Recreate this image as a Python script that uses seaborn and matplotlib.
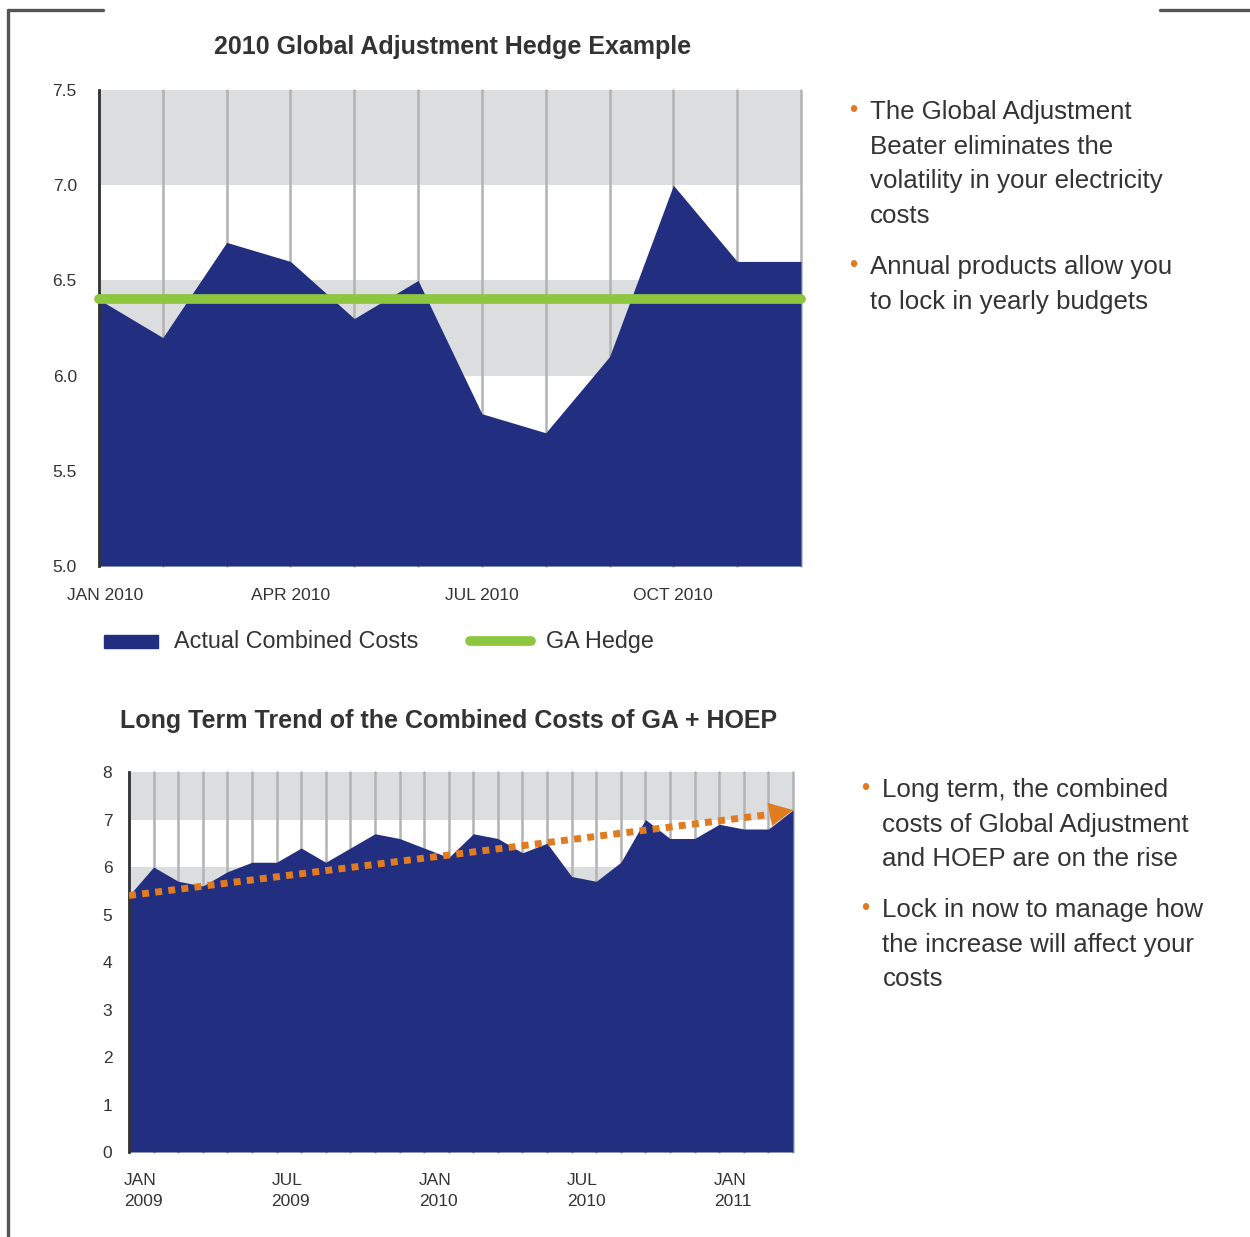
import numpy as np
import pandas as pd

import matplotlib
matplotlib.use("Agg")
import matplotlib.pyplot as plt
import matplotlib.transforms as mtrans
import seaborn as sns

#####################################
### DATA
#####################################
months_2010 = ["JAN", "FEB", "MAR", "APR", "MAY", "JUN",
               "JUL", "AUG", "SEP", "OCT", "NOV", "DEC"]
combined_2010 = [6.4, 6.2, 6.7, 6.6, 6.3, 6.5, 5.8, 5.7, 6.1, 7.0, 6.6, 6.6]
ga_hedge = 6.4
top_ticks = ["JAN 2010", "APR 2010", "JUL 2010", "OCT 2010"]

combined_long = [5.4, 6.0, 5.7, 5.6, 5.9, 6.1, 6.1, 6.4, 6.1, 6.4, 6.7, 6.6,
                 6.4, 6.2, 6.7, 6.6, 6.3, 6.5, 5.8, 5.7, 6.1, 7.0, 6.6, 6.6,
                 6.9, 6.8, 6.8, 7.2]
trend_ends = [5.4, 7.2]
bottom_ticks = ["JAN\n2009", "JUL\n2009", "JAN\n2010", "JUL\n2010", "JAN\n2011"]

bullets_top = ["The Global Adjustment\nBeater eliminates the\nvolatility in your electricity\ncosts",
               "Annual products allow you\nto lock in yearly budgets"]
bullets_bottom = ["Long term, the combined\ncosts of Global Adjustment\nand HOEP are on the rise",
                  "Lock in now to manage how\nthe increase will affect your\ncosts"]

top_df = pd.DataFrame({"x": np.arange(len(combined_2010)), "cost": combined_2010,
                       "hedge": [ga_hedge] * len(combined_2010)})
long_df = pd.DataFrame({"x": np.arange(len(combined_long)), "cost": combined_long})

#####################################
### STYLE
#####################################
sns.set_style("white")
plt.rcParams["font.family"] = ["Liberation Sans", "DejaVu Sans"]

NAVY = "#222E80"
GREEN = "#8DC63F"
ORANGE = "#E07B20"
BAND = "#DCDDDF"
GRID = "#B3B3B3"
TXT = "#333333"

fig = plt.figure(figsize=(12.5, 12.37), dpi=100)

# page frame
fig.add_artist(plt.Line2D([0.0065, 0.0065], [0.0, 0.992], color="#555555", lw=2.4))
fig.add_artist(plt.Line2D([0.0065, 0.082], [0.992, 0.992], color="#555555", lw=2.4))
fig.add_artist(plt.Line2D([0.928, 1.0], [0.992, 0.992], color="#555555", lw=2.4))

#####################################
### TOP CHART
#####################################
ax1 = fig.add_axes([0.0792, 0.5424, 0.5616, 0.3848])
n1 = len(top_df)
for lo in [5.0, 6.0, 7.0]:
    ax1.axhspan(lo, lo + 0.5, color=BAND, lw=0, zorder=0)
for xv in top_df["x"]:
    ax1.axvline(xv, color=GRID, lw=1.8, zorder=1, clip_on=False)
ax1.fill_between(top_df["x"], 5.0, top_df["cost"], color=NAVY, lw=0, zorder=2)
sns.lineplot(data=top_df, x="x", y="hedge", ax=ax1, color=GREEN, lw=7,
             solid_capstyle="round", zorder=3, clip_on=False)

ax1.set_xlim(0, n1 - 1)
ax1.set_ylim(5.0, 7.5)
ax1.set_yticks([5.0, 5.5, 6.0, 6.5, 7.0, 7.5])
ax1.set_yticklabels(["5.0", "5.5", "6.0", "6.5", "7.0", "7.5"])
ax1.set_xticks([0, 3, 6, 9])
ax1.set_xticklabels(top_ticks)
for s in ["top", "right", "bottom"]:
    ax1.spines[s].set_visible(False)
ax1.spines["left"].set_color("#333333")
ax1.spines["left"].set_linewidth(2)
ax1.tick_params(axis="y", length=0, pad=16, labelsize=12.5, labelcolor=TXT)
ax1.tick_params(axis="x", length=10, width=1.8, color=GRID, pad=6,
                labelsize=12.5, labelcolor=TXT)
ax1.get_xticklines()[0].set_color("#333333")
off1 = mtrans.ScaledTranslation(6 / 100, 0, fig.dpi_scale_trans)
lab0 = ax1.get_xticklabels()[0]
lab0.set_transform(lab0.get_transform() + off1)
ax1.set_xlabel("")
ax1.set_ylabel("")
ax1.set_title("2010 Global Adjustment Hedge Example", fontsize=18,
              fontweight="bold", color=TXT, pad=26, x=0.503)

# legend
fig.add_artist(plt.Rectangle((0.083, 0.4758), 0.043, 0.0105, color=NAVY,
                             transform=fig.transFigure))
fig.text(0.139, 0.4815, "Actual Combined Costs", fontsize=16.8, color=TXT, va="center")
fig.add_artist(plt.Line2D([0.376, 0.425], [0.4815, 0.4815], color=GREEN, lw=7,
                          solid_capstyle="round"))
fig.text(0.4365, 0.4815, "GA Hedge", fontsize=16.8, color=TXT, va="center")

#####################################
### BOTTOM CHART
#####################################
ax2 = fig.add_axes([0.1032, 0.0687, 0.5312, 0.3072])
n2 = len(long_df)
for lo in [1, 3, 5, 7]:
    ax2.axhspan(lo, lo + 1, color=BAND, lw=0, zorder=0)
for xv in long_df["x"]:
    ax2.axvline(xv, color=GRID, lw=1.8, zorder=1, clip_on=False)
ax2.fill_between(long_df["x"], 0, long_df["cost"], color=NAVY, lw=0, zorder=2)

trend_df = pd.DataFrame({"x": [0, n2 - 1.6], "y": [trend_ends[0], trend_ends[1] - 0.07]})
sns.lineplot(data=trend_df, x="x", y="y", ax=ax2, color=ORANGE, lw=5,
             linestyle=(0, (1.0, 0.9)), zorder=3)
ax2.annotate("", xy=(n2 - 1, trend_ends[1]), xytext=(n2 - 1.9, trend_ends[1] - 0.09),
             arrowprops=dict(arrowstyle="-|>,head_length=1.7,head_width=0.85",
                             color=ORANGE, lw=0, shrinkA=0, shrinkB=0),
             zorder=4, annotation_clip=False)

ax2.set_xlim(0, n2 - 1)
ax2.set_ylim(0, 8)
ax2.set_yticks(range(0, 9))
ax2.set_xticks([0, 6, 12, 18, 24])
ax2.set_xticklabels(bottom_ticks, ha="left", linespacing=1.5)
ax2.set_xticks(long_df["x"], minor=True)
for s in ["top", "right", "bottom"]:
    ax2.spines[s].set_visible(False)
ax2.spines["left"].set_color("#333333")
ax2.spines["left"].set_linewidth(2)
ax2.tick_params(axis="y", length=0, pad=12, labelsize=12.5, labelcolor=TXT)
ax2.tick_params(axis="x", which="major", length=9, width=1.8, color=GRID, pad=6,
                labelsize=12.5, labelcolor=TXT)
ax2.tick_params(axis="x", which="minor", length=3, width=1, color=GRID)
off2 = mtrans.ScaledTranslation(-5 / 100, 0, fig.dpi_scale_trans)
for lab in ax2.get_xticklabels():
    lab.set_transform(lab.get_transform() + off2)
ax2.get_xticklines()[0].set_color("#333333")
ax2.set_xlabel("")
ax2.set_ylabel("")
ax2.set_title("Long Term Trend of the Combined Costs of GA + HOEP", fontsize=18,
              fontweight="bold", color=TXT, pad=32, x=0.482)

#####################################
### SIDE TEXT
#####################################
def bullets(x, y, items, gap):
    for item in items:
        fig.text(x, y, "\u2022", fontsize=17, color=ORANGE, va="top")
        fig.text(x + 0.017, y, item, fontsize=18.6, color=TXT, va="top",
                 linespacing=1.56)
        y -= gap

bullets(0.679, 0.919, bullets_top, 0.1255)
bullets(0.689, 0.371, bullets_bottom, 0.097)

fig.savefig("out.png", dpi=100)
plt.close()
